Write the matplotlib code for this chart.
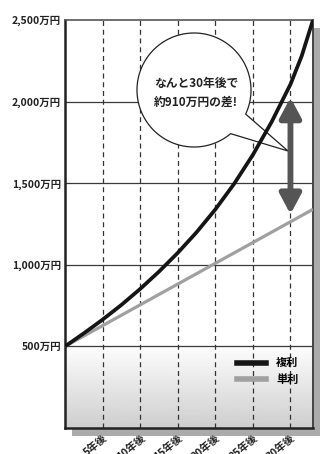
import matplotlib.pyplot as plt
import numpy as np
from matplotlib.patches import Rectangle, Polygon, FancyArrowPatch
from matplotlib.lines import Line2D

plt.rcParams['font.family'] = ['Noto Sans CJK JP', 'DejaVu Sans']

# data (万円)
years = [0, 2.5, 5, 7.5, 10, 12.5, 15, 17.5, 20, 22.5, 25, 27.5, 30, 31.5, 33]
compound = [500, 580, 664, 754, 852, 958, 1073, 1199, 1339, 1496, 1674,
            1876, 2106, 2280, 2500]
simple_years = [0, 33]
simple = [500, 1340]

yticks = [500, 1000, 1500, 2000, 2500]
ytick_labels = ["500万円", "1,000万円", "1,500万円", "2,000万円", "2,500万円"]
xticks = [5, 10, 15, 20, 25, 30]
xtick_labels = ["5年後", "10年後", "15年後", "20年後", "25年後", "30年後"]
arrow_top, arrow_bottom = 2025, 1310

W, H = 321, 454
fig = plt.figure(figsize=(W / 100, H / 100), dpi=100)


def fx(x, y):
    # image pixel -> figure fraction
    return (x / W, 1 - y / H)


L, T, R, B = 65, 20, 313, 428
ax = fig.add_axes([L / W, 1 - B / H, (R - L) / W, (B - T) / H])

# drop shadow
sh = Rectangle(fx(L + 7, B + 8), (R - L) / W, (B - T) / H, transform=fig.transFigure,
               facecolor='#ababab', edgecolor='none', zorder=0)
fig.add_artist(sh)
ax.set_zorder(1)

ax.set_xlim(0, 33)
ax.set_ylim(0, 2500)

# gradient background
yy = np.linspace(0, 2500, 300)
shade = np.clip(1 - (520 - yy) / 520 * 0.19, 0.8, 1.0)
ax.imshow(shade[:, None], extent=[0, 33, 0, 2500], origin='lower', aspect='auto',
          cmap='gray', vmin=0, vmax=1, zorder=0)

for v in yticks[:-1]:
    ax.axhline(v, color='#3a3a3a', lw=0.9, zorder=1)
for v in xticks:
    ax.axvline(v, color='#333333', lw=0.9, dashes=(4, 3), zorder=1)

# speech bubble
cx, cy, r = 194, 90, 57
a1, a2 = np.deg2rad(-25), np.deg2rad(-50) + 2 * np.pi
ang = np.linspace(a1, a2, 200)
pts = [fx(cx + r * np.cos(a), cy - r * np.sin(a)) for a in ang]
pts.append(fx(288, 151))
bubble = Polygon(pts, closed=True, transform=fig.transFigure, facecolor='white',
                 edgecolor='#222222', lw=0.9, zorder=2)
ax.add_patch(bubble)
ax.text(*fx(196, 83), "なんと30年後で", transform=fig.transFigure, ha='center',
        va='center', fontsize=8.5, fontweight='bold', color='#222222', zorder=3)
ax.text(*fx(196, 102), "約910万円の差!", transform=fig.transFigure, ha='center',
        va='center', fontsize=8.5, fontweight='bold', color='#222222', zorder=3)

ax.plot(simple_years, simple, color='#a0a0a0', lw=2.3, zorder=4, solid_capstyle='butt')
ax.plot(years, compound, color='#151515', lw=2.7, zorder=5, solid_capstyle='butt',
        solid_joinstyle='round')

arr = FancyArrowPatch((30, arrow_bottom), (30, arrow_top),
                      arrowstyle='<|-|>,head_length=0.75,head_width=0.4',
                      mutation_scale=16, color='#555555', lw=4.2, zorder=6,
                      shrinkA=0, shrinkB=0)
ax.add_patch(arr)

handles = [Line2D([], [], color='#151515', lw=4),
           Line2D([], [], color='#a0a0a0', lw=4)]
ax.legend(handles, ["複利", "単利"], loc='upper left', frameon=False,
          bbox_to_anchor=(0.655, 0.2), handlelength=2.6, handletextpad=0.9,
          labelspacing=0.3, prop={'size': 8, 'weight': 'bold'})

ax.set_yticks(yticks)
ax.set_yticklabels(ytick_labels, fontsize=7.5, fontweight='bold', color='#222222')
ax.set_xticks(xticks)
ax.set_xticklabels(xtick_labels, fontsize=7.5, fontweight='bold', color='#222222',
                   rotation=40, ha='right', va='top', rotation_mode='anchor')
ax.tick_params(axis='both', length=0)
ax.tick_params(axis='y', pad=3)
ax.tick_params(axis='x', pad=3)

ax.spines['left'].set_linewidth(1.8)
ax.spines['bottom'].set_linewidth(1.8)
ax.spines['left'].set_color('#222222')
ax.spines['bottom'].set_color('#222222')
ax.spines['top'].set_linewidth(1.2)
ax.spines['top'].set_color('#555555')
ax.spines['right'].set_linewidth(1.4)
ax.spines['right'].set_color('#444444')

fig.savefig('out.png', dpi=100)
